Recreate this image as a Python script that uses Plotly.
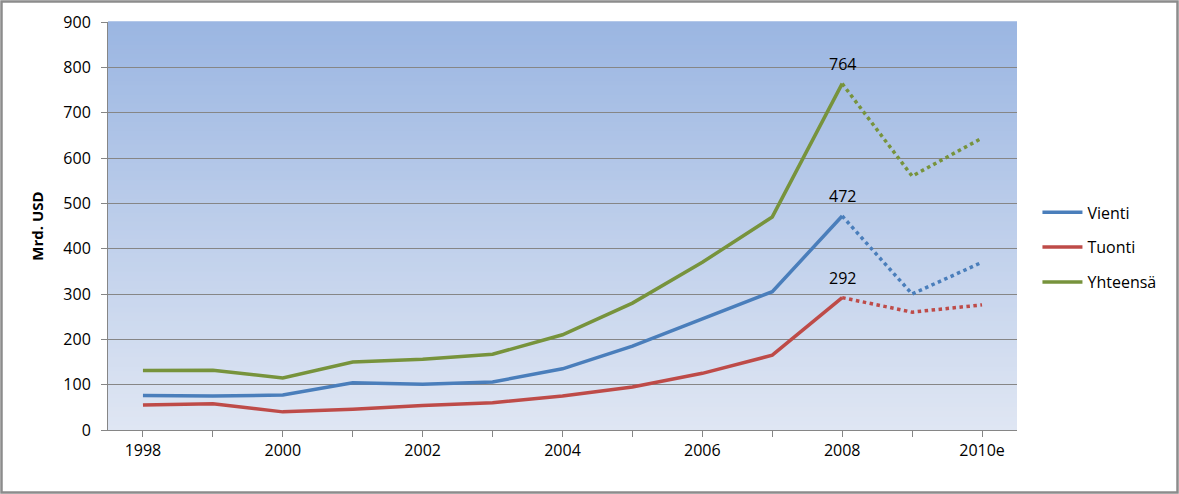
import plotly.graph_objects as go

years = ["1998", "1999", "2000", "2001", "2002", "2003", "2004", "2005", "2006", "2007", "2008", "2009", "2010e"]
vienti = [76, 75, 77, 104, 101, 106, 135, 185, 245, 305, 472, 300, 370]
tuonti = [55, 58, 40, 46, 54, 60, 75, 95, 125, 165, 292, 260, 276]
yhteensa = [131, 132, 115, 150, 156, 167, 210, 280, 370, 470, 764, 560, 644]
series_names = ["Vienti", "Tuonti", "Yhteensä"]
series_colors = ["#4A7EBB", "#BE4B48", "#77933C"]
tick_labels = ["1998", "", "2000", "", "2002", "", "2004", "", "2006", "", "2008", "", "2010e"]
split = 10  # index of 2008: solid up to here, dotted after

W, H = 1179, 494
L, R, T, B = 108, 162, 22, 64
pw, ph = W - L - R, H - T - B

fig = go.Figure()
for i, (name, vals, col) in enumerate(zip(series_names, [vienti, tuonti, yhteensa], series_colors)):
    fig.add_trace(go.Scatter(x=years[:split + 1], y=vals[:split + 1], mode="lines", name=name,
                             line=dict(color=col, width=3.5), legendgroup=name, showlegend=True))
    fig.add_trace(go.Scatter(x=years[split:], y=vals[split:], mode="lines", name=name,
                             line=dict(color=col, width=3.5, dash="dot"), legendgroup=name, showlegend=False))
    fig.add_annotation(x=split, xref="x", y=vals[split], yref="y", text=str(vals[split]), showarrow=False,
                       yanchor="bottom", yshift=7, font=dict(size=16, color="#000000"))

# gradient background strips
n = 90
top = (155, 182, 226)
bot = (223, 230, 243)
shapes = []
for k in range(n):
    t = k / (n - 1)
    c = tuple(round(bot[j] + (top[j] - bot[j]) * t) for j in range(3))
    shapes.append(dict(type="rect", xref="paper", yref="paper", x0=0, x1=1,
                       y0=k / n, y1=(k + 1) / n + 0.002, fillcolor="rgb(%d,%d,%d)" % c,
                       line=dict(width=0), layer="below"))
# outer frame
shapes.append(dict(type="rect", xref="paper", yref="paper",
                   x0=(1.5 - L) / pw, x1=(W - 1.5 - L) / pw,
                   y0=(H - B - (H - 1.5)) / ph, y1=(H - B - 1.5) / ph,
                   line=dict(color="#8C8C8C", width=2.5), fillcolor="rgba(0,0,0,0)", layer="above"))

font_family = "Open Sans, Liberation Sans, sans-serif"
fig.update_layout(
    width=W, height=H,
    margin=dict(l=L, r=R, t=T, b=B),
    paper_bgcolor="white", plot_bgcolor="rgba(0,0,0,0)",
    shapes=shapes,
    font=dict(family=font_family, size=16, color="#000000"),
    legend=dict(x=1.0225, y=0.575, xanchor="left", yanchor="top", tracegroupgap=11,
                font=dict(size=16), bgcolor="rgba(0,0,0,0)", itemwidth=40),
    xaxis=dict(type="category", categoryorder="array", categoryarray=years,
               tickmode="array", tickvals=years, ticktext=tick_labels,
               ticks="outside", ticklen=6, tickcolor="#868686",
               showline=True, linecolor="#868686", linewidth=1,
               showgrid=False, range=[-0.5, len(years) - 0.5],
               tickfont=dict(size=16)),
    yaxis=dict(range=[0, 900], dtick=100, ticks="outside", ticklen=6, tickcolor="#868686",
               showline=True, linecolor="#868686", linewidth=1,
               showgrid=True, gridcolor="#868686", gridwidth=1, zeroline=False,
               tickfont=dict(size=16), ticklabelstandoff=7,
               title=dict(text="<b>Mrd. USD</b>", font=dict(size=15), standoff=16)),
)

fig.write_html("out.html", config={"displayModeBar": False},
               post_script="document.body.style.margin='0';document.body.style.overflow='hidden';")
